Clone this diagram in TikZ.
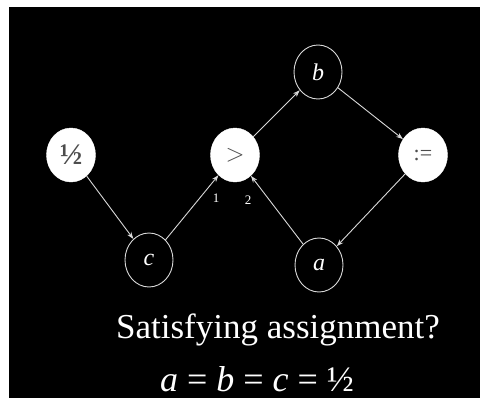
\documentclass[tikz,border=0pt]{standalone}
\usepackage{fontspec}
\setmainfont{Liberation Serif}
\usepackage{tikz}
\usetikzlibrary{arrows.meta, positioning, shapes.geometric}

\tikzset{
    fullnode/.style={ellipse, fill=white, draw=white, text=black!70, minimum width=49pt, minimum height=54pt, inner sep=0pt, font=\fontsize{22}{24}\selectfont},
    varnode/.style={ellipse, draw=white!85!black, line width=0.9pt, text=white, minimum width=48pt, minimum height=54pt, inner sep=0pt, font=\fontsize{24}{26}\selectfont\itshape},
    link/.style={draw=white!85!black, line width=0.9pt, -{Stealth[length=7pt, width=5pt]}},
    portlabel/.style={text=white, font=\fontsize{13}{14}\selectfont}
}

\begin{document}
\begin{tikzpicture}[x=1pt, y=-1pt]

    % frame
    \fill[white] (0, 0) rectangle (484, 407);
    \fill[black] (9, 7) rectangle (480, 398);
    \useasboundingbox (0, 0) rectangle (484, 407);

    % constant and operators
    \node[fullnode, font=\fontsize{30}{32}\selectfont\bfseries] (half) at (71, 155) {½};
    \node[fullnode, font=\fontsize{26}{28}\selectfont] (gt) at (235, 155) {$>$};
    \node[fullnode] (assign) at (423, 155) {:=};

    % variables
    \node[varnode] (b) at (318, 72) {b};
    \node[varnode] (c) at (149, 260) {c};
    \node[varnode] (a) at (319, 265) {a};

    % wires
    \draw[link] (half) -- (c);
    \draw[link] (c) -- (gt);
    \draw[link] (a) -- (gt);
    \draw[link] (gt) -- (b);
    \draw[link] (b) -- (assign);
    \draw[link] (assign) -- (a);

    % input ports of >
    \node[portlabel] (port1) at (216, 198) {1};
    \node[portlabel] (port2) at (248, 200) {2};

    % question and answer
    \node[text=white, font=\fontsize{35}{38}\selectfont, anchor=base] (question) at (278, 338) {Satisfying assignment?};
    \node[text=white, font=\fontsize{36}{38}\selectfont, anchor=base] (answer) at (257, 391) {\textit{a}\hspace{9pt}=\hspace{9pt}\textit{b}\hspace{9pt}=\hspace{9pt}\textit{c}\hspace{9pt}=\hspace{9pt}½};

\end{tikzpicture}
\end{document}
